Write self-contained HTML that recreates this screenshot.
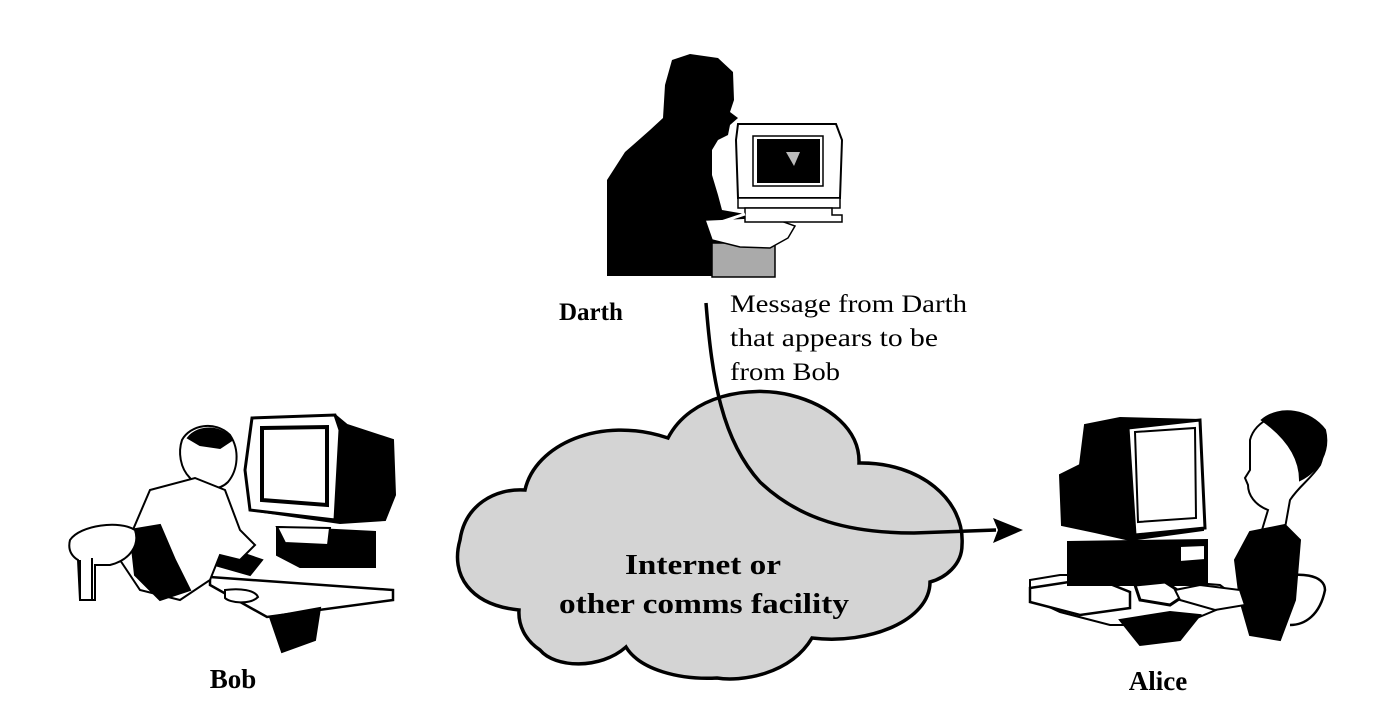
<!DOCTYPE html>
<html><head><meta charset="utf-8"><style>
html,body{margin:0;padding:0;background:#fff;}
svg{display:block;}
text{font-family:"Liberation Serif",serif;fill:#000;}
</style></head><body>
<svg width="1386" height="728" viewBox="0 0 1386 728" xmlns="http://www.w3.org/2000/svg">
<!-- Darth -->
<path d="M607,276 L607,180 L625,152 L650,130 L663,118 L665,85 L672,60 L690,54 L718,58 L733,72 L734,100 L730,112 L738,118 L730,125 L728,135 L718,140 L712,150 L712,175 L718,195 L722,210 L745,214 L770,215 L775,228 L760,240 L740,245 L735,256 L712,262 L712,276 Z" fill="#000"/>
<rect x="712" y="243" width="63" height="34" fill="#aaa" stroke="#000" stroke-width="1.5"/>
<path d="M705,220 L770,217 L795,226 L788,238 L770,248 L740,247 L712,240 Z" fill="#fff" stroke="#000" stroke-width="1.5"/>
<path d="M738,124 L836,124 L842,140 L840,198 L738,198 L736,140 Z" fill="#fff" stroke="#000" stroke-width="2"/>
<rect x="753" y="136" width="70" height="50" fill="#fff" stroke="#000" stroke-width="1.5"/>
<rect x="757" y="139" width="63" height="44" fill="#000"/>
<path d="M786,152 L800,152 L794,166 Z" fill="#bbb"/>
<path d="M738,198 L840,198 L840,208 L738,208 Z" fill="#fff" stroke="#000" stroke-width="1.5"/>
<path d="M745,208 L832,208 L832,215 L842,215 L842,222 L745,222 Z" fill="#fff" stroke="#000" stroke-width="1.5"/>
<path d="M712,225 L745,214" stroke="#fff" stroke-width="3"/>
<path d="M722,222 C730,226 740,230 745,226" stroke="#fff" stroke-width="2" fill="none"/>
<text x="559" y="320" font-size="25" font-weight="bold">Darth</text>
<text x="730" y="312" font-size="25" textLength="237" lengthAdjust="spacingAndGlyphs">Message from Darth</text>
<text x="730" y="346" font-size="25" textLength="208" lengthAdjust="spacingAndGlyphs">that appears to be</text>
<text x="730" y="380" font-size="25" textLength="110" lengthAdjust="spacingAndGlyphs">from Bob</text>

<!-- Cloud -->
<path d="M519,610 C470,605 450,575 460,540 C465,505 495,488 525,490 C535,445 600,415 668,438 C690,395 750,385 790,395 C830,405 860,430 859,463 C920,462 965,500 962,545 C962,565 945,578 930,582 C930,620 870,645 812,638 C790,675 740,682 717,678 C680,680 640,670 626,647 C600,670 555,668 540,650 C525,640 518,625 519,610 Z" fill="#d4d4d4" stroke="#000" stroke-width="3.5"/>
<text x="703" y="574" font-size="29" font-weight="bold" text-anchor="middle" textLength="156" lengthAdjust="spacingAndGlyphs">Internet or</text>
<text x="704" y="613" font-size="29" font-weight="bold" text-anchor="middle" textLength="290" lengthAdjust="spacingAndGlyphs">other comms facility</text>

<!-- Arrow -->
<path d="M706,303 C712,380 722,440 760,482 C800,520 850,533 914,533 L996,530" fill="none" stroke="#000" stroke-width="3.5"/>
<path d="M1023,530 L993,518 L998,530 L993,543 Z" fill="#000"/>

<!-- Bob -->
<g stroke="#000" stroke-width="2" fill="none">
<path d="M210,577 L393,590 L393,600 L267,617 L210,585 Z" fill="#fff" stroke-width="2.5"/>
<path d="M270,617 L320,608 L315,640 L282,652 Z" fill="#000"/>
<path d="M277,527 L375,532 L375,567 L300,567 L277,555 Z" fill="#000"/>
<path d="M277,527 L330,528 L328,545 L285,543 Z" fill="#fff"/>
<path d="M252,418 L335,415 L347,425 L393,440 L395,495 L385,520 L340,523 L250,510 Z" fill="#000"/>
<path d="M252,418 L335,415 L340,430 L335,520 L250,510 L245,470 Z" fill="#fff" stroke-width="3"/>
<path d="M262,428 L327,427 L327,505 L262,500 Z" fill="#fff" stroke-width="4"/>
<path d="M218,545 L262,560 L250,575 L215,565 Z" fill="#000"/>
<path d="M225,590 C240,588 255,590 258,597 C250,605 230,603 225,598 Z" fill="#fff"/>
<path d="M182,440 C190,425 215,420 230,435 C240,450 238,470 228,482 C218,492 200,490 190,478 C180,468 178,452 182,440 Z" fill="#fff"/>
<path d="M188,438 C198,425 222,425 232,440 L220,448 L200,445 Z" fill="#000"/>
<path d="M150,490 L195,478 L225,490 L240,530 L255,545 L240,560 L220,555 L210,580 L180,600 L140,590 L120,560 Z" fill="#fff"/>
<path d="M130,530 L160,525 L175,560 L190,590 L160,600 L135,575 Z" fill="#000"/>
<path d="M70,540 C80,525 120,520 135,530 C140,545 130,560 110,565 L95,565 L95,600 L80,600 L78,560 C70,555 68,548 70,540 Z" fill="#fff"/>
<path d="M80,560 L80,600 M92,558 L92,600"/>
</g>
<text x="233" y="688" font-size="27" font-weight="bold" text-anchor="middle">Bob</text>

<!-- Alice -->
<g stroke="#000" stroke-width="2" fill="none">
<path d="M1030,580 L1060,575 L1100,575 L1220,585 L1240,600 L1180,625 L1110,625 L1060,612 L1030,598 Z" fill="#fff"/>
<path d="M1120,620 L1170,612 L1200,615 L1180,640 L1140,645 Z" fill="#000"/>
<path d="M1030,588 L1095,578 L1130,592 L1130,608 L1080,615 L1030,602 Z" fill="#fff" stroke-width="2.5"/>
<path d="M1068,542 L1207,540 L1207,585 L1068,585 Z" fill="#000"/>
<path d="M1180,546 L1205,545 L1205,560 L1180,562 Z" fill="#fff"/>
<path d="M1135,585 L1165,582 L1185,595 L1170,605 L1140,600 Z" fill="#fff" stroke-width="3"/>
<path d="M1085,425 L1120,418 L1200,420 L1203,530 L1130,540 L1095,532 L1062,525 L1060,475 L1080,465 Z" fill="#000"/>
<path d="M1128,428 L1200,420 L1205,528 L1135,535 Z" fill="#fff" stroke-width="3"/>
<path d="M1135,432 L1195,428 L1196,518 L1138,522 Z" fill="#fff" stroke-width="2"/>
<path d="M1250,440 C1255,420 1280,410 1300,418 C1320,425 1328,445 1320,465 C1310,480 1300,485 1290,500 L1285,528 L1262,530 L1268,510 C1255,505 1248,495 1248,485 L1245,478 L1250,470 Z" fill="#fff"/>
<path d="M1262,420 C1280,405 1310,410 1325,430 C1330,450 1320,470 1300,480 C1300,460 1290,440 1262,420 Z" fill="#000"/>
<path d="M1250,532 L1285,525 L1300,540 L1295,600 L1280,640 L1250,635 L1240,600 L1235,560 Z" fill="#000"/>
<path d="M1175,590 L1200,585 L1240,590 L1245,605 L1215,610 L1180,600 Z" fill="#fff"/>
<path d="M1270,580 C1300,570 1325,575 1325,590 C1320,615 1305,625 1290,625" stroke-width="2.5"/>
</g>
<text x="1158" y="690" font-size="27" font-weight="bold" text-anchor="middle">Alice</text>
</svg>
</body></html>
